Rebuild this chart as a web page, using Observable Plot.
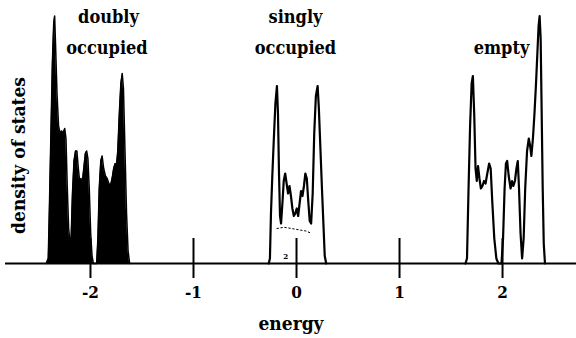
<!DOCTYPE html>
<html>
<head>
<meta charset="utf-8">
<script src="https://cdn.jsdelivr.net/npm/d3@7"></script>
<script src="https://cdn.jsdelivr.net/npm/@observablehq/plot@0.6"></script>
<style>
  html, body { margin: 0; padding: 0; background: #fff; }
</style>
</head>
<body>
<div id="chart"></div>
<script>
// Density of states vs. energy: doubly occupied (filled), singly occupied and empty bands.
const doublyOccupied = [
  [-2.43, 0], [-2.41, 0.02], [-2.40, 0.2], [-2.385, 0.5], [-2.37, 0.8], [-2.357, 0.96],
  [-2.348, 0.99], [-2.338, 0.86], [-2.325, 0.68], [-2.31, 0.55], [-2.295, 0.52],
  [-2.28, 0.53], [-2.265, 0.52], [-2.25, 0.54], [-2.238, 0.5], [-2.225, 0.3],
  [-2.212, 0.14], [-2.2, 0.09], [-2.188, 0.1], [-2.175, 0.28], [-2.16, 0.41],
  [-2.145, 0.45], [-2.132, 0.45], [-2.118, 0.38], [-2.105, 0.33], [-2.092, 0.34],
  [-2.078, 0.33], [-2.065, 0.38], [-2.05, 0.44], [-2.037, 0.45], [-2.025, 0.42],
  [-2.012, 0.3], [-1.998, 0.12], [-1.985, 0.03], [-1.972, 0], [-1.94, 0],
  [-1.928, 0.1], [-1.915, 0.3], [-1.9, 0.41], [-1.887, 0.43], [-1.872, 0.38],
  [-1.855, 0.35], [-1.838, 0.34], [-1.822, 0.32], [-1.806, 0.31], [-1.79, 0.34],
  [-1.775, 0.38], [-1.76, 0.4], [-1.748, 0.39], [-1.735, 0.45], [-1.72, 0.6],
  [-1.705, 0.72], [-1.692, 0.76], [-1.68, 0.7], [-1.665, 0.45], [-1.65, 0.2],
  [-1.635, 0.05], [-1.62, 0]
];

const singlyOccupied = [
  [-0.27, 0], [-0.258, 0.02], [-0.248, 0.2], [-0.235, 0.35], [-0.22, 0.5],
  [-0.205, 0.64], [-0.19, 0.71], [-0.18, 0.6], [-0.17, 0.36], [-0.16, 0.19],
  [-0.15, 0.16], [-0.137, 0.24], [-0.124, 0.33], [-0.11, 0.36], [-0.096, 0.32],
  [-0.082, 0.28], [-0.068, 0.31], [-0.054, 0.27], [-0.04, 0.22], [-0.026, 0.19],
  [-0.012, 0.2], [0.002, 0.22], [0.016, 0.19], [0.03, 0.24], [0.044, 0.29],
  [0.058, 0.27], [0.072, 0.31], [0.086, 0.36], [0.1, 0.34], [0.114, 0.25],
  [0.128, 0.17], [0.142, 0.16], [0.157, 0.28], [0.172, 0.52], [0.188, 0.67],
  [0.205, 0.71], [0.217, 0.62], [0.232, 0.46], [0.247, 0.3], [0.262, 0.15],
  [0.274, 0.03], [0.288, 0]
];

// faint dotted trace inside the singly occupied band
const singlyDotted = [
  [-0.19, 0.14], [-0.12, 0.145], [-0.05, 0.14], [0.02, 0.135], [0.09, 0.13], [0.15, 0.12]
];

const empty = [
  [1.64, 0], [1.655, 0.02], [1.67, 0.3], [1.685, 0.55], [1.7, 0.72], [1.712, 0.75],
  [1.725, 0.6], [1.738, 0.38], [1.75, 0.33], [1.762, 0.39], [1.776, 0.34],
  [1.79, 0.3], [1.805, 0.31], [1.82, 0.33], [1.835, 0.32], [1.852, 0.36],
  [1.87, 0.4], [1.885, 0.38], [1.9, 0.25], [1.92, 0.1], [1.94, 0.02], [1.96, 0],
  [1.99, 0], [2.005, 0.1], [2.02, 0.3], [2.033, 0.4], [2.045, 0.41], [2.06, 0.35],
  [2.078, 0.3], [2.092, 0.33], [2.105, 0.31], [2.12, 0.33], [2.135, 0.38],
  [2.148, 0.41], [2.16, 0.3], [2.175, 0.12], [2.19, 0.02], [2.205, 0.1],
  [2.22, 0.3], [2.238, 0.45], [2.255, 0.5], [2.268, 0.47], [2.28, 0.43],
  [2.295, 0.5], [2.31, 0.6], [2.325, 0.72], [2.338, 0.84], [2.35, 0.95],
  [2.36, 0.99], [2.37, 0.9], [2.38, 0.6], [2.39, 0.3], [2.4, 0.08], [2.412, 0]
];

const energyTicks = [-2, -1, 0, 1, 2];

// band annotations: first and second text rows
const bandLabelsTop = [
  {text: "doubly", energy: -1.825},
  {text: "singly", energy: -0.01}
];
const bandLabelsBottom = [
  {text: "occupied", energy: -1.84},
  {text: "occupied", energy: -0.01},
  {text: "empty", energy: 1.99}
];

const font = "'DejaVu Serif Condensed', 'DejaVu Serif', serif";
const pts = (arr) => arr.map(([e, d]) => ({e, d}));

const chart = Plot.plot({
  width: 576,
  height: 338,
  marginLeft: 5,
  marginRight: 0,
  marginTop: 13,
  marginBottom: 75,
  style: {fontFamily: font, fontWeight: "bold", fontSize: "17px", background: "#fff", color: "#000"},
  x: {domain: [-2.825, 2.718]},
  y: {domain: [0, 1], axis: null},
  marks: [
    Plot.ruleX(energyTicks, {x: d => d, y1: 0, y2: 0.1, stroke: "#000", strokeWidth: 2}),
    Plot.axisX(energyTicks, {
      tickSize: 15, tickPadding: 7, strokeWidth: 2,
      tickFormat: d => String(d), fontSize: 17, fontWeight: "bold", label: null
    }),
    Plot.ruleY([0], {stroke: "#000", strokeWidth: 2}),
    Plot.areaY(pts(doublyOccupied), {x: "e", y: "d", fill: "#000"}),
    Plot.lineY(pts(doublyOccupied), {x: "e", y: "d", stroke: "#000", strokeWidth: 1.5}),
    Plot.lineY(pts(singlyDotted), {x: "e", y: "d", stroke: "#000", strokeWidth: 1, strokeDasharray: "1.5,2.5"}),
    Plot.text(["2"], {x: -0.105, y: 0.03, fontSize: 8, fontWeight: "bold"}),
    Plot.lineY(pts(singlyOccupied), {x: "e", y: "d", stroke: "#000", strokeWidth: 2.2}),
    Plot.lineY(pts(empty), {x: "e", y: "d", stroke: "#000", strokeWidth: 2.2}),
    Plot.text(bandLabelsTop, {x: "energy", text: "text", frameAnchor: "top", dy: 9, lineAnchor: "bottom", fontSize: 18}),
    Plot.text(bandLabelsBottom, {x: "energy", text: "text", frameAnchor: "top", dy: 40, lineAnchor: "bottom", fontSize: 18}),
    Plot.text(["energy"], {frameAnchor: "bottom", dy: 60, lineAnchor: "middle", fontSize: 19}),
    Plot.text(["density of states"], {frameAnchor: "left", textAnchor: "middle", dx: 13, dy: 17, rotate: -90, lineAnchor: "middle", fontSize: 19})
  ]
});

document.getElementById("chart").appendChild(chart);
</script>
</body>
</html>
